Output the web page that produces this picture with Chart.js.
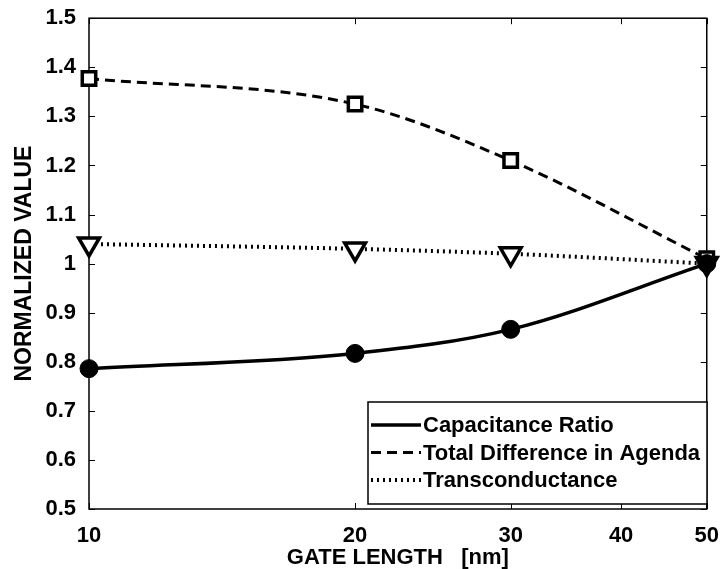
<!DOCTYPE html>
<html>
<head>
<meta charset="utf-8">
<title>Normalized value vs gate length</title>
<script src="https://cdn.jsdelivr.net/npm/chart.js@4.4.1/dist/chart.umd.min.js"></script>
<style>
	html, body { margin: 0; padding: 0; background: #fff; }
	#chart { display: block; }
</style>
</head>
<body>
<canvas id="chart" width="725" height="569"></canvas>
<script>
// Data
const gateLength = [10, 20, 30, 50];
const capacitanceRatio = [0.786, 0.817, 0.866, 1.0];
const totalDifference = [1.377, 1.325, 1.21, 1.01];
const transconductance = [1.04, 1.03, 1.02, 1.0];
const seriesLabels = ['Capacitance Ratio', 'Total Difference in Agenda', 'Transconductance'];
const xTicks = [10, 20, 30, 40, 50];
const yTicks = [0.5, 0.6, 0.7, 0.8, 0.9, 1.0, 1.1, 1.2, 1.3, 1.4, 1.5];

const FONT = '"Liberation Sans", Arial, Helvetica, sans-serif';
const TICK_LEN = 6;

document.addEventListener("DOMContentLoaded", function () {
	const ctx = document.getElementById('chart').getContext('2d');

	function toPoints(values) {
		return values.map((v, i) => ({ x: gateLength[i], y: v }));
	}

	// Box around the axes plus inward tick marks on all four sides (MATLAB style)
	const frameTicks = {
		id: 'frameTicks',
		beforeDatasetsDraw(chart) {
			const { ctx, chartArea: a, scales: { x, y } } = chart;
			ctx.save();
			ctx.strokeStyle = '#000';
			ctx.lineWidth = 1;
			ctx.beginPath();
			xTicks.forEach(v => {
				const px = Math.round(x.getPixelForValue(v)) + 0.5;
				ctx.moveTo(px, a.bottom);
				ctx.lineTo(px, a.bottom - TICK_LEN);
				ctx.moveTo(px, a.top);
				ctx.lineTo(px, a.top + TICK_LEN);
			});
			yTicks.forEach(v => {
				const py = Math.round(y.getPixelForValue(v)) + 0.5;
				ctx.moveTo(a.left, py);
				ctx.lineTo(a.left + TICK_LEN, py);
				ctx.moveTo(a.right, py);
				ctx.lineTo(a.right - TICK_LEN, py);
			});
			ctx.stroke();
			ctx.lineWidth = 1.5;
			ctx.strokeRect(a.left, a.top, a.right - a.left, a.bottom - a.top);
			ctx.restore();
		}
	};

	// Legend box in the lower right corner, line samples only
	const boxLegend = {
		id: 'boxLegend',
		afterDraw(chart) {
			const c = chart.ctx;
			const box = { left: 368, top: 402, width: 339, height: 102 };
			c.save();
			c.fillStyle = '#fff';
			c.fillRect(box.left, box.top, box.width, box.height);
			c.strokeStyle = '#000';
			c.lineWidth = 1.5;
			c.strokeRect(box.left, box.top, box.width, box.height);
			c.font = 'bold 22px ' + FONT;
			c.textAlign = 'left';
			c.textBaseline = 'middle';
			chart.data.datasets.forEach((ds, i) => {
				const rowY = box.top + 23 + i * 27.5;
				c.setLineDash(ds.borderDash || []);
				c.lineWidth = ds.borderWidth;
				c.strokeStyle = ds.borderColor;
				c.beginPath();
				c.moveTo(box.left + 3, rowY);
				c.lineTo(box.left + 53, rowY);
				c.stroke();
				c.setLineDash([]);
				c.fillStyle = '#000';
				c.fillText(ds.label, box.left + 55, rowY + 1);
			});
			c.restore();
		}
	};

	new Chart(ctx, {
		type: 'line',
		data: {
			datasets: [{
				label: seriesLabels[0],
				data: toPoints(capacitanceRatio),
				borderColor: '#000',
				borderWidth: 3.5,
				cubicInterpolationMode: 'monotone',
				pointStyle: 'circle',
				pointRadius: 9,
				pointBorderWidth: 1,
				pointBackgroundColor: '#000',
				pointBorderColor: '#000',
				clip: false
			}, {
				label: seriesLabels[1],
				data: toPoints(totalDifference),
				borderColor: '#000',
				borderWidth: 3,
				borderDash: [10, 6],
				cubicInterpolationMode: 'monotone',
				pointStyle: 'rect',
				pointRadius: 9.5,
				pointBorderWidth: 3.5,
				pointBackgroundColor: '#fff',
				pointBorderColor: '#000',
				clip: false
			}, {
				label: seriesLabels[2],
				data: toPoints(transconductance),
				borderColor: '#000',
				borderWidth: 4,
				borderDash: [2, 4],
				cubicInterpolationMode: 'monotone',
				pointStyle: 'triangle',
				pointRotation: 180,
				pointRadius: 12,
				pointBorderWidth: 3.5,
				pointBackgroundColor: '#fff',
				pointBorderColor: '#000',
				clip: false
			}]
		},
		options: {
			responsive: false,
			animation: false,
			devicePixelRatio: 1,
			layout: { padding: { top: 17, right: 13, left: 0, bottom: 0 } },
			plugins: {
				legend: { display: false },
				tooltip: { enabled: false }
			},
			scales: {
				x: {
					type: 'logarithmic',
					min: 10,
					max: 50,
					afterBuildTicks: s => { s.ticks = xTicks.map(v => ({ value: v })); },
					afterFit: s => { s.height = 60; },
					grid: { display: false },
					border: { display: false },
					ticks: {
						color: '#000',
						padding: 6,
						maxRotation: 0,
						autoSkip: false,
						font: { family: FONT, size: 22, weight: 'bold' },
						callback: v => String(v)
					},
					title: {
						display: true,
						text: 'GATE LENGTH   [nm]',
						color: '#000',
						padding: { top: 0, bottom: 0 },
						font: { family: FONT, size: 22, weight: 'bold', lineHeight: 1 }
					}
				},
				y: {
					min: 0.5,
					max: 1.5,
					afterBuildTicks: s => { s.ticks = yTicks.map(v => ({ value: v })); },
					afterFit: s => { s.width = 89; },
					grid: { display: false },
					border: { display: false },
					ticks: {
						color: '#000',
						padding: 5,
						autoSkip: false,
						font: { family: FONT, size: 22, weight: 'bold' },
						callback: v => String(Number(v.toFixed(1)))
					},
					title: {
						display: true,
						text: 'NORMALIZED VALUE',
						color: '#000',
						padding: { top: 13, bottom: 0 },
						font: { family: FONT, size: 23, weight: 'bold', lineHeight: 1 }
					}
				}
			}
		},
		plugins: [frameTicks, boxLegend]
	});
});
</script>
</body>
</html>
